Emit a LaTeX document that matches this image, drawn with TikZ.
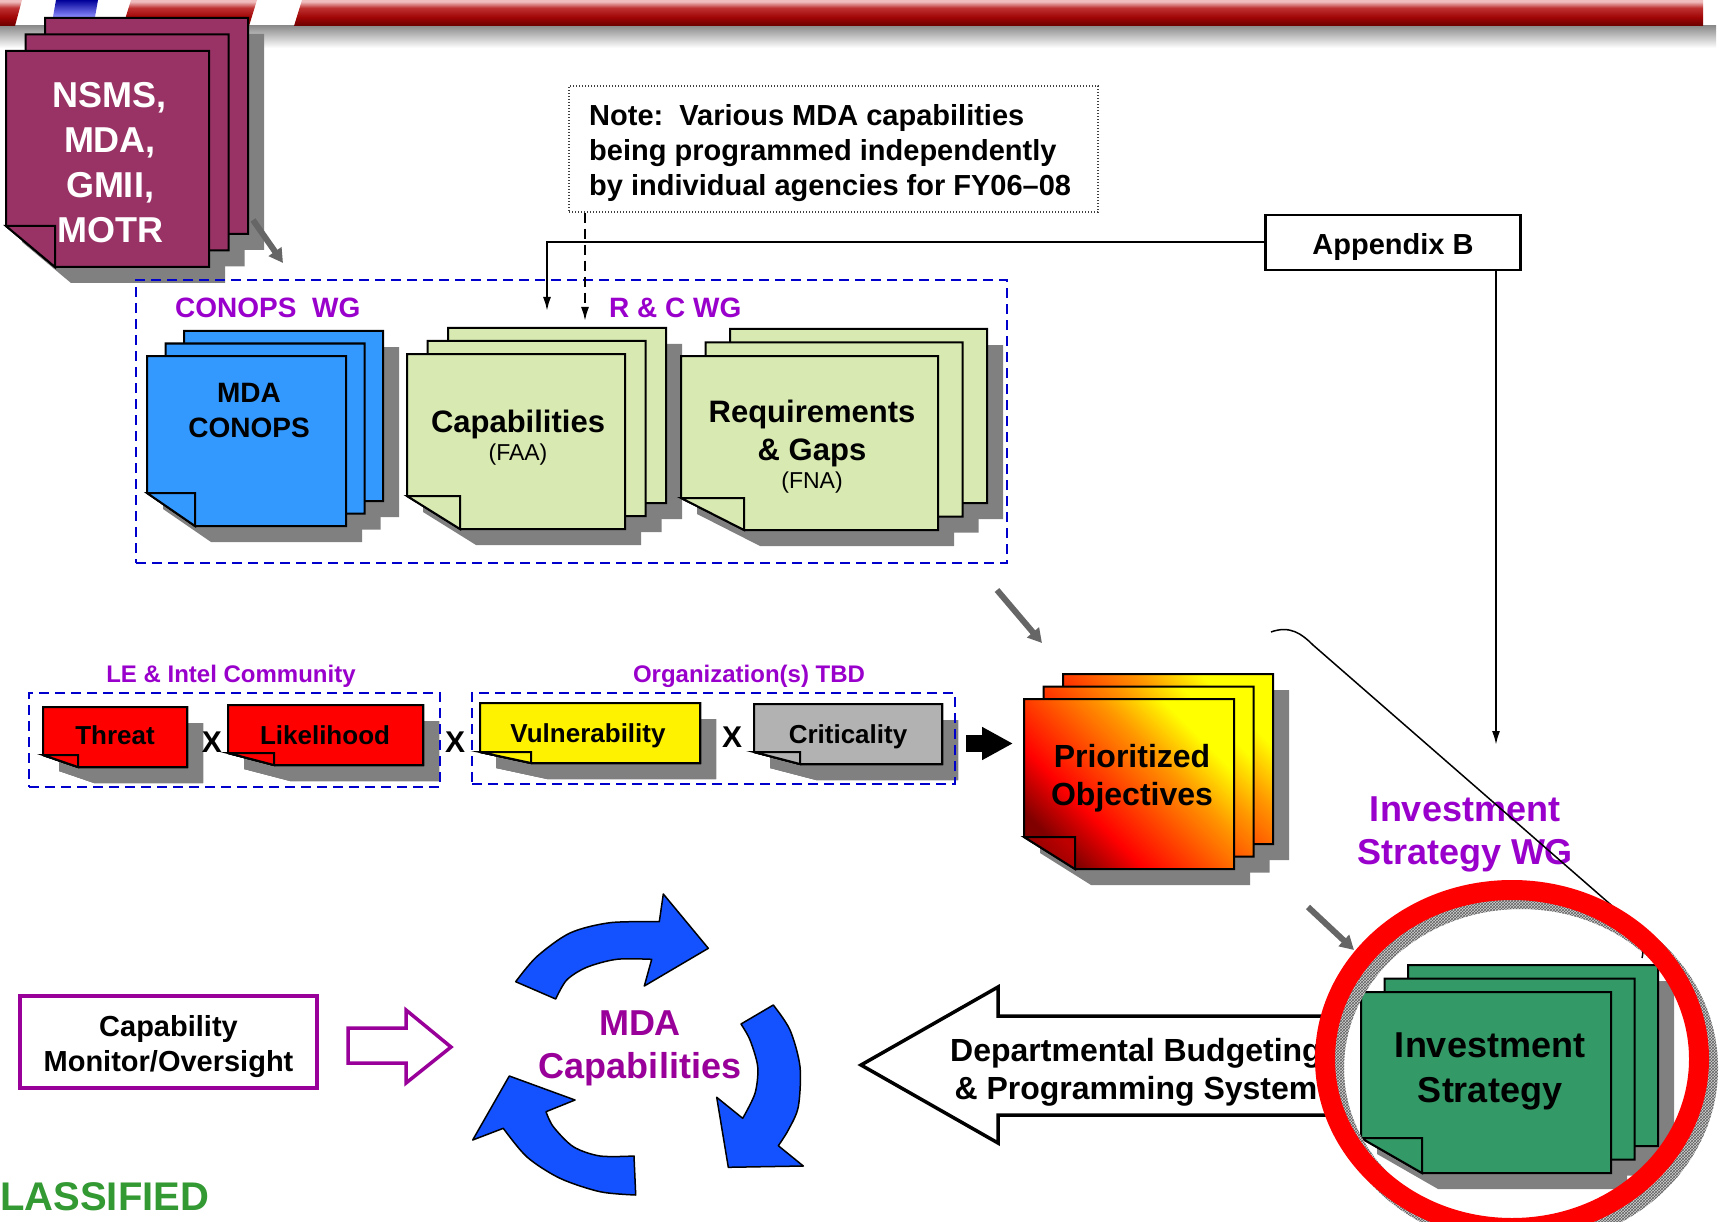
\documentclass[tikz,border=0pt]{standalone}
\usepackage{fontspec}
\setmainfont{Liberation Sans}
\usetikzlibrary{arrows.meta,fit,patterns}

\definecolor{plum}{RGB}{153,51,102}
\definecolor{conopsblue}{RGB}{51,153,255}
\definecolor{faagreen}{RGB}{216,233,178}
\definecolor{shadowgray}{RGB}{128,128,128}
\definecolor{critgray}{RGB}{178,178,178}
\definecolor{investgreen}{RGB}{51,153,102}
\definecolor{cycleblue}{RGB}{20,82,255}
\definecolor{wgblue}{RGB}{0,0,204}
\definecolor{wgpurple}{RGB}{153,0,204}
\definecolor{mdapurple}{RGB}{153,0,153}
\definecolor{classgreen}{RGB}{51,153,51}
\definecolor{arrowgray}{RGB}{102,102,102}
\definecolor{priodark}{RGB}{128,0,0}
\definecolor{prioorangeA}{RGB}{255,70,0}
\definecolor{prioorangeB}{RGB}{255,150,0}
\definecolor{bannerdark}{RGB}{105,0,0}
\definecolor{bannermid}{RGB}{160,5,5}
\definecolor{bannerred}{RGB}{190,50,50}
\definecolor{bannerlight}{RGB}{240,190,190}

\pgfdeclareverticalshading{bannershade}{100bp}{color(0bp)=(bannerdark); color(25bp)=(bannerdark); color(42bp)=(bannermid); color(60bp)=(bannerred); color(72bp)=(bannerlight); color(100bp)=(bannerlight)}
\pgfdeclarehorizontalshading{prioshade}{100bp}{color(0bp)=(priodark); color(25bp)=(priodark); color(37bp)=(red); color(48bp)=(prioorangeA); color(60bp)=(prioorangeB); color(72bp)=(yellow); color(100bp)=(yellow)}
\pgfdeclarehorizontalshading{prioflapshade}{100bp}{color(0bp)=(priodark); color(25bp)=(priodark); color(75bp)=(red!75!black); color(100bp)=(red!75!black)}

\newcommand{\fsz}[2]{\fontsize{#1}{#2}\selectfont}
% stack of dog-eared pages: look, front page top left, width, height, step back, fold
\newcommand{\docstack}[9]{%
  \foreach \k in {2,1,0}{%
    \fill[pageshadow] ({#2+\k*(#6)+16},{#3-\k*(#7)+16}) -- ++(#4,0) -- ++(0,#5)
      -- ++({#8-(#4)},0) -- ++({-(#8)},{-(#9)}) -- cycle;
  }
  \foreach \k in {2,1,0}{%
    \filldraw[pageline,#1] ({#2+\k*(#6)},{#3-\k*(#7)}) -- ++(#4,0) -- ++(0,#5)
      -- ++({#8-(#4)},0) -- ++({-(#8)},{-(#9)}) -- cycle;
  }
  \filldraw[pageline,#1,foldlook] (#2,{#3+#5-(#9)}) -- ++(#8,0) -- ++(0,#9) -- cycle;
}

\begin{document}
\begin{tikzpicture}[
    x=1pt, y=-1pt,
    font=\bfseries,
    pageline/.style={draw=black, line width=2pt, line join=miter},
    pageshadow/.style={fill=shadowgray},
    foldlook/.style={},
    wgbox/.style={draw=wgblue, line width=2.5pt, dash pattern=on 10pt off 6pt, inner sep=0pt},
    wglabel/.style={text=wgpurple, inner sep=0pt, anchor=base west, font=\fsz{28}{34}\bfseries},
    grouplabel/.style={text=wgpurple, inner sep=0pt, anchor=base, font=\fsz{24}{29}\bfseries},
    doctext/.style={inner sep=0pt, align=center},
    subtext/.style={inner sep=0pt, anchor=base, font=\fsz{23}{28}\mdseries},
    risktext/.style={inner sep=0pt, anchor=base, font=\fsz{26}{31}\bfseries},
    crosssign/.style={inner sep=0pt, anchor=base, font=\fsz{30}{36}\bfseries},
    notebox/.style={draw=black!75, line width=1.2pt, dash pattern=on 1.2pt off 1.8pt,
        minimum width=529pt, minimum height=126pt, inner sep=0pt},
    notetext/.style={anchor=west, align=left, inner sep=0pt, font=\fsz{29}{35}\bfseries},
    appbox/.style={draw, line width=2.5pt, minimum width=255pt, minimum height=55pt,
        inner sep=0pt, text height=31pt, text depth=6pt, font=\fsz{29}{35}\bfseries},
    monbox/.style={draw=mdapurple, line width=3.5pt, minimum width=297pt, minimum height=92pt,
        inner sep=0pt},
    thinarrow/.style={draw=black, line width=2pt, -{Latex[length=14pt,width=8pt]}},
    dasharrow/.style={thinarrow, dash pattern=on 10pt off 6pt},
    grayarrow/.style={draw=arrowgray, line width=6pt, -{Triangle[length=14pt,width=15pt]}},
    blockarrow/.style={draw=black, line width=17pt, -{Triangle[length=31pt,width=31pt]}},
    hollowarrow/.style={draw=mdapurple, fill=white, line width=3.5pt, line join=miter},
    budgetarrow/.style={draw=black, fill=white, line width=3.5pt, line join=miter},
    cyclearrow/.style={fill=cycleblue, draw=black, line width=1.5pt, line join=round},
    callout/.style={draw=black, line width=1.5pt},
    redring/.style={draw=red, line width=20pt}
  ]
  \useasboundingbox (0,0) rectangle (1723,1222);
  \fill[white] (0,0) rectangle (1723,1222);

  % Banner across the top
  \shade[top color=shadowgray!90, bottom color=white] (0,26) rectangle (1716,48);
  \shade[shading=bannershade] (0,0) -- (22,0) -- (15,26) -- (0,26) -- cycle;
  \shade[shading=bannershade] (131,0) -- (257,0) -- (249,26) -- (123,26) -- cycle;
  \shade[shading=bannershade] (302,0) -- (1703,0) -- (1703,26) -- (294,26) -- cycle;
  \shade[top color=blue!60!black, bottom color=blue!45!white] (56,0) -- (98,0) -- (95,17) -- (53,17) -- cycle;

  % Source documents
  \docstack{fill=plum}{6}{51}{203}{216}{19.5}{16.5}{49}{41}
  \node[doctext, text=white, font=\fsz{36}{45}\bfseries] (nsms) at (110,162.6) {NSMS,\\MDA,\\GMII,\\MOTR};

  % Note and Appendix B
  \node[notebox] (note) at (833.5,149) {};
  \node[notetext] (notetxt) at (589,152.6) {Note:\ \ Various MDA capabilities\\being programmed independently\\by individual agencies for FY06--08};
  \node[appbox] (appx) at (1393,242.5) {Appendix B};

  % CONOPS and R & C working groups
  \docstack{fill=conopsblue}{147}{356}{199}{170}{18.5}{12.5}{48}{33}
  \docstack{fill=faagreen}{407}{354}{218}{175}{20.5}{13}{53}{33}
  \docstack{fill=faagreen}{681}{356}{257}{174}{24.5}{13.5}{63}{32}
  \node[doctext, font=\fsz{28}{35}\bfseries] (conops) at (249,410.5) {MDA\\CONOPS};
  \node[inner sep=0pt, anchor=base, font=\fsz{31}{38}\bfseries] (capab) at (518,432) {Capabilities};
  \node[subtext] (faa) at (518,460) {(FAA)};
  \node[doctext, font=\fsz{31}{38}\bfseries] (reqgaps) at (812,433) {Requirements\\\& Gaps};
  \node[subtext] (fna) at (812,488) {(FNA)};
  \node[wgbox, fit={(136,280) (1007,563)}] (rcgrp) {};
  \node[wglabel] (conopswg) at (175,318) {CONOPS\ \ WG};
  \node[wglabel] (rcwg) at (609,318) {R \& C WG};

  % Connections from the note and Appendix B
  \coordinate (capin) at (547,311);
  \coordinate (rcin) at (585,321);
  \coordinate (invin) at (1496,745);
  \draw[thinarrow] (appx.west) -| (capin);
  \draw[dasharrow] (rcin |- note.south) -- (rcin);
  \draw[thinarrow] (invin |- appx.south) -- (invin);

  % Risk factors
  \docstack{fill=red}{43}{707}{144}{60}{0}{0}{35}{12}
  \docstack{fill=red}{228}{705}{195}{60}{0}{0}{46}{12}
  \docstack{fill=yellow}{480}{703}{220}{60}{0}{0}{51}{11}
  \docstack{fill=critgray}{754}{704}{188}{60}{0}{0}{46}{12}
  \node[risktext] (threat) at (115,744) {Threat};
  \node[risktext] (likely) at (325,744) {Likelihood};
  \node[risktext] (vuln) at (588,742) {Vulnerability};
  \node[risktext] (crit) at (848,743) {Criticality};
  \node[crosssign] (x1) at (212,752) {X};
  \node[crosssign] (x2) at (455,752) {X};
  \node[crosssign] (x3) at (732,747) {X};
  \node[wgbox, fit={(29,693) (440,787)}] (legrp) {};
  \node[wgbox, fit={(472,693) (955,784)}] (orggrp) {};
  \node[grouplabel] (lecomm) at (231,682) {LE \& Intel Community};
  \node[grouplabel] (orgtbd) at (749,682) {Organization(s) TBD};

  % Prioritized objectives
  \begin{scope}[foldlook/.style={shading=prioflapshade}]
    \docstack{shade, shading=prioshade, shading angle=45}{1024}{699}{210}{170}{19.5}{12.5}{51}{32}
  \end{scope}
  \node[doctext, font=\fsz{32}{38}\bfseries] (prio) at (1132,777.8) {Prioritized\\Objectives};

  % Gray flow arrows
  \coordinate (nsmsout) at (253,220);
  \coordinate (grpin) at (283,263);
  \coordinate (grpout) at (997,590);
  \coordinate (prioin) at (1042,643);
  \coordinate (prioout) at (1308,907);
  \coordinate (strin) at (1354,950);
  \draw[grayarrow] (nsmsout) -- (grpin);
  \draw[grayarrow] (grpout) -- (prioin);
  \draw[grayarrow] (prioout) -- (strin);
  \coordinate (riskout) at (966,743.5);
  \coordinate (riskin) at (1013,743.5);
  \draw[blockarrow] (riskout) -- (riskin);

  % Investment strategy
  \node[doctext, text=wgpurple, font=\fsz{36}{43}\bfseries] (invwg) at (1465,834) {Investment\\Strategy WG};
  \filldraw[budgetarrow] (1332,1016) -- (998,1016) -- (998,987) -- (861,1065) -- (998,1143) -- (998,1115) -- (1332,1115) -- cycle;
  \node[doctext, font=\fsz{32}{38}\bfseries] (budget) at (1136,1072.7) {Departmental Budgeting\\\& Programming System};
  \docstack{fill=investgreen}{1361}{992}{250}{181}{23.5}{13.5}{61}{35}
  \node[doctext, font=\fsz{36}{45}\bfseries] (invstrat) at (1490,1071.2) {Investment\\Strategy};
  \fill[gray!35, even odd rule] (1521,1068) ellipse [x radius=197, y radius=179] (1521,1068) ellipse [x radius=177, y radius=159];
  \fill[pattern=crosshatch, pattern color=gray!75!black, even odd rule] (1521,1068) ellipse [x radius=197, y radius=179] (1521,1068) ellipse [x radius=177, y radius=159];
  \coordinate (callstart) at (1271,632);
  \coordinate (callend) at (1642,958);
  \draw[callout] (callstart) .. controls (1290,625) and (1302,634) .. (1313,645) -- (1618,911) .. controls (1636,927) and (1646,942) .. (callend);
  \draw[redring] (1512,1059) ellipse [x radius=187, y radius=169];

  % Capability monitoring
  \node[monbox] (monitor) at (168.5,1042) {};
  \node[doctext, font=\fsz{29}{35}\bfseries] (montxt) at (168.5,1047) {Capability\\Monitor/Oversight};
  \filldraw[hollowarrow] (348,1028) -- (406,1028) -- (406,1010) -- (451,1047) -- (406,1083) -- (406,1063) -- (348,1063) -- cycle;

  % MDA capabilities cycle
  \filldraw[cyclearrow] (515.7,981.7) -- plot[smooth] coordinates {(515.7,981.7) (536.7,956.7) (570,933) (610,922.7) (659.3,921.7)}
    -- (663.3,894) -- (708.3,948.3) -- (644.3,986) -- (651.7,959.3)
    -- plot[smooth] coordinates {(651.7,959.3) (616.7,959.3) (586.7,967.3) (566.7,980) (555.7,999)} -- cycle;
  \filldraw[cyclearrow] (773.3,1005) -- plot[smooth] coordinates {(773.3,1005) (790,1030) (800,1066.7) (798.3,1106.7) (788.3,1130) (778.3,1145.7)}
    -- (803.3,1166) -- (728.3,1167.3) -- (716.7,1097.3) -- (742.7,1118.3)
    -- plot[smooth] coordinates {(742.7,1118.3) (755,1093.3) (757.7,1066.7) (750,1040) (741,1024)} -- cycle;
  \filldraw[cyclearrow] (635.7,1195) -- plot[smooth] coordinates {(635.7,1195) (600,1191.7) (560,1178.3) (527,1157) (503.3,1128.3)}
    -- (472.7,1140) -- (509.3,1076) -- (575,1100) -- (546,1111.7)
    -- plot[smooth] coordinates {(546,1111.7) (553.3,1126.7) (573.3,1146.7) (600,1156) (634,1156)} -- cycle;
  \node[doctext, text=mdapurple, font=\fsz{36}{43}\bfseries] (mdacap) at (640,1048.8) {MDA\\Capabilities};

  % Classification marking
  \node[inner sep=0pt, anchor=base west, text=classgreen, font=\fsz{40}{48}\bfseries] (classif) at (0,1210) {LASSIFIED};
\end{tikzpicture}
\end{document}
